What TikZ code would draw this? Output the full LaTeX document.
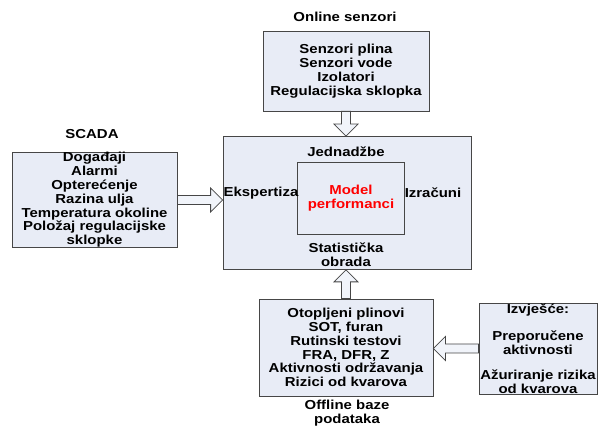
\documentclass[tikz,border=0pt]{standalone}
\usepackage{fontspec}
\usepackage{xcolor}
\usetikzlibrary{calc}
\newfontfamily\diagfont{Liberation Sans}[FakeStretch=1.15]
\definecolor{boxfill}{RGB}{232,236,246}
\definecolor{boxline}{RGB}{70,70,70}
\definecolor{modelred}{RGB}{255,0,0}

% hollow block arrow between two points
\newcommand{\blockarrow}[2]{%
  \path ($(#2)!12pt!(#1)$) coordinate (hb);
  \draw[flow] ($(#1)!4.5pt!90:(#2)$) -- ($(hb)!4.5pt!90:(#2)$) -- ($(hb)!12pt!90:(#2)$) -- (#2)
    -- ($(hb)!12pt!-90:(#2)$) -- ($(hb)!4.5pt!-90:(#2)$) -- ($(#1)!4.5pt!-90:(#2)$) -- cycle;}

\begin{document}
\begin{tikzpicture}[x=1pt, y=-1pt,
    txt/.style={font=\diagfont\bfseries\fontsize{13}{13.8}\selectfont, align=center, inner sep=0pt},
    box/.style={txt, draw=boxline, fill=boxfill, line width=0.8pt},
    flow/.style={draw=boxline, fill=boxfill!60!white, line width=0.8pt, line join=miter}]
  \useasboundingbox (0,0) rectangle (600,427);

  % sources
  \node[txt] (onlinetitle) at (345,17) {Online senzori};
  \node[box, minimum width=166pt, minimum height=80pt] (online) at (346,71)
    {Senzori plina\\Senzori vode\\Izolatori\\Regulacijska sklopka};
  \node[txt] (scadatitle) at (92,134) {SCADA};
  \node[box, minimum width=165pt, minimum height=94pt] (scada) at (94.5,200)
    {Događaji\\Alarmi\\Opterećenje\\Razina ulja\\Temperatura okoline\\Položaj regulacijske\\sklopke};

  % model
  \node[box, minimum width=248pt, minimum height=133pt] (centre) at (347,203) {};
  \node[box, minimum width=107pt, minimum height=72pt] (model) at (350.5,198) {};
  \node[txt, text=modelred] (modeltext) at (351,198) {Model\\performanci};
  \node[txt] (jednadzbe) at (346,152) {Jednadžbe};
  \node[txt] (ekspertiza) at (261,193) {Ekspertiza};
  \node[txt] (izracuni) at (433,193) {Izračuni};
  \node[txt] (statistika) at (346,255) {Statistička\\obrada};

  % offline + report
  \node[box, minimum width=174pt, minimum height=97pt] (offline) at (346,347.5)
    {Otopljeni plinovi\\SOT, furan\\Rutinski testovi\\FRA, DFR, Z\\Aktivnosti održavanja\\Rizici od kvarova};
  \node[txt] (offlinetitle) at (347,413) {Offline baze\\podataka};
  \node[box, minimum width=118pt, minimum height=91pt] (izvjesce) at (538,348.5)
    {Izvješće:\\[14pt]Preporučene\\aktivnosti\\[11pt]Ažuriranje rizika\\od kvarova};

  \blockarrow{online.south}{online.south |- centre.north}
  \blockarrow{scada.east}{scada.east -| centre.west}
  \blockarrow{offline.north}{offline.north |- centre.south}
  \blockarrow{izvjesce.west}{izvjesce.west -| offline.east}
\end{tikzpicture}
\end{document}
